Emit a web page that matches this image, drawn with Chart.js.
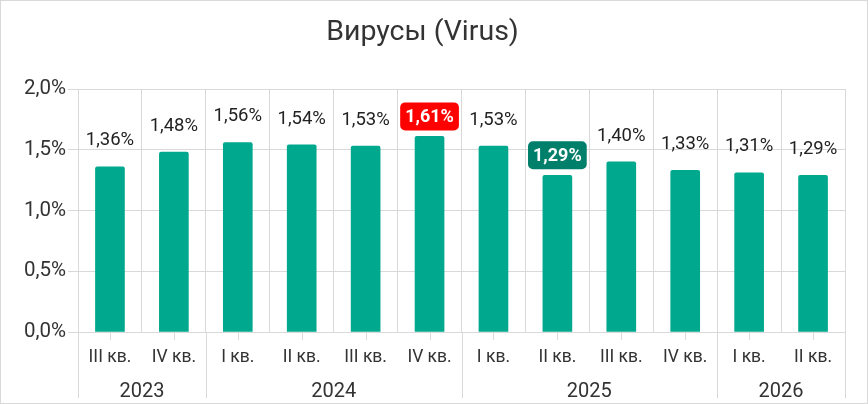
<!DOCTYPE html>
<html>
<head>
<meta charset="utf-8">
<script src="https://cdn.jsdelivr.net/npm/chart.js@4.4.0/dist/chart.umd.min.js"></script>
<style>
    html, body { margin: 0; padding: 0; background: #fff; }
    #wrap { width: 868px; height: 404px; }
</style>
</head>
<body>
<div id="wrap"><canvas id="virusChart"></canvas></div>
<script>
const quarters = ['III кв.', 'IV кв.', 'I кв.', 'II кв.', 'III кв.', 'IV кв.', 'I кв.', 'II кв.', 'III кв.', 'IV кв.', 'I кв.', 'II кв.'];
const shares = [1.36, 1.48, 1.56, 1.54, 1.53, 1.61, 1.53, 1.29, 1.40, 1.33, 1.31, 1.29];
const years = ['2023', '2024', '2025', '2026'];
const yearStarts = [0, 2, 6, 10, 12];
const yTicks = [0, 0.5, 1.0, 1.5, 2.0];
const badges = { 5: '#ff0000', 7: '#007f6b' };

const FONT = 'Roboto, "Noto Sans", sans-serif';
const TEXT = '#333333';
const GRID = '#d9d9d9';

function fmt(v, d) {
    return v.toFixed(d).replace('.', ',') + '%';
}

// фон и рамка вокруг всего рисунка
const framePlugin = {
    id: 'frame',
    beforeDraw(chart) {
        const ctx = chart.ctx;
        ctx.save();
        ctx.fillStyle = '#ffffff';
        ctx.fillRect(0, 0, chart.width, chart.height);
        ctx.strokeStyle = GRID;
        ctx.lineWidth = 1;
        ctx.strokeRect(0.5, 0.5, chart.width - 1, chart.height - 1);
        ctx.restore();
    }
};

// подписи годов и разделители групп под осью
const yearPlugin = {
    id: 'yearRow',
    afterDraw(chart) {
        const x = chart.scales.x;
        const ctx = chart.ctx;
        const step = x.width / quarters.length;
        const edge = i => x.left + i * step;
        ctx.save();
        ctx.strokeStyle = GRID;
        ctx.lineWidth = 1;
        yearStarts.forEach(b => {
            const px = Math.round(edge(b)) + 0.5;
            ctx.beginPath();
            ctx.moveTo(px, x.top);
            ctx.lineTo(px, chart.height - 6);
            ctx.stroke();
        });
        // засечки по центрам кварталов
        quarters.forEach((q, i) => {
            const px = Math.round(x.getPixelForValue(i)) + 0.5;
            ctx.beginPath();
            ctx.moveTo(px, x.top);
            ctx.lineTo(px, x.top + 8);
            ctx.stroke();
        });
        ctx.fillStyle = TEXT;
        ctx.font = '20px ' + FONT;
        ctx.textAlign = 'center';
        ctx.textBaseline = 'middle';
        years.forEach((y, i) => {
            const cx = (edge(yearStarts[i]) + edge(yearStarts[i + 1])) / 2;
            ctx.fillText(y, cx, 392);
        });
        ctx.restore();
    }
};

// значения над столбцами, два выделены плашками
const valuePlugin = {
    id: 'values',
    afterDatasetsDraw(chart) {
        const ctx = chart.ctx;
        const meta = chart.getDatasetMeta(0);
        ctx.save();
        ctx.textAlign = 'center';
        ctx.textBaseline = 'middle';
        meta.data.forEach((bar, i) => {
            const text = fmt(shares[i], 2);
            if (badges[i]) {
                ctx.font = 'bold 18px ' + FONT;
                const w = ctx.measureText(text).width + 10;
                const h = 28;
                const cy = bar.y - 20;
                ctx.fillStyle = badges[i];
                ctx.beginPath();
                ctx.roundRect(bar.x - w / 2, cy - h / 2, w, h, 5);
                ctx.fill();
                ctx.fillStyle = '#ffffff';
                ctx.fillText(text, bar.x, cy + 1);
            } else {
                ctx.font = '18.5px ' + FONT;
                ctx.fillStyle = '#222222';
                ctx.fillText(text, bar.x, bar.y - 26);
            }
        });
        ctx.restore();
    }
};

const data = {
    labels: quarters,
    datasets: [{
        label: 'Вирусы',
        data: shares,
        backgroundColor: '#00a88e',
        borderRadius: 2,
        borderSkipped: 'bottom',
        barThickness: 29
    }]
};

const config = {
    type: 'bar',
    data: data,
    options: {
        responsive: true,
        maintainAspectRatio: false,
        animation: false,
        layout: {
            padding: { left: 0, right: 23, top: 0, bottom: 0 }
        },
        scales: {
            x: {
                grid: { display: false },
                border: { display: false },
                ticks: {
                    color: TEXT,
                    font: { family: FONT, size: 17.5 },
                    padding: 7,
                    maxRotation: 0,
                    autoSkip: false
                },
                afterFit(scale) { scale.height = 72; }
            },
            xGrid: {
                type: 'category',
                labels: quarters,
                position: 'top',
                offset: true,
                grid: { offset: true, color: GRID, drawTicks: false },
                border: { display: false },
                ticks: { display: false },
                afterFit(scale) { scale.height = 0; }
            },
            y: {
                min: 0,
                max: 2,
                afterBuildTicks(scale) {
                    scale.ticks = yTicks.map(v => ({ value: v }));
                },
                grid: { color: GRID, tickLength: 10 },
                border: { display: true, color: GRID },
                ticks: {
                    color: TEXT,
                    font: { family: FONT, size: 20.5 },
                    padding: 2,
                    callback: v => fmt(v, 1)
                },
                afterFit(scale) { scale.width = 78; }
            }
        },
        plugins: {
            legend: { display: false },
            tooltip: { enabled: false },
            title: {
                display: true,
                text: 'Вирусы (Virus)',
                color: TEXT,
                font: { family: FONT, size: 28.5, weight: 'normal', lineHeight: 1.2 },
                padding: { top: 16, bottom: 38.8 }
            }
        }
    },
    plugins: [framePlugin, yearPlugin, valuePlugin]
};

const ctx = document.getElementById('virusChart').getContext('2d');
const chart = new Chart(ctx, config);
</script>
</body>
</html>
